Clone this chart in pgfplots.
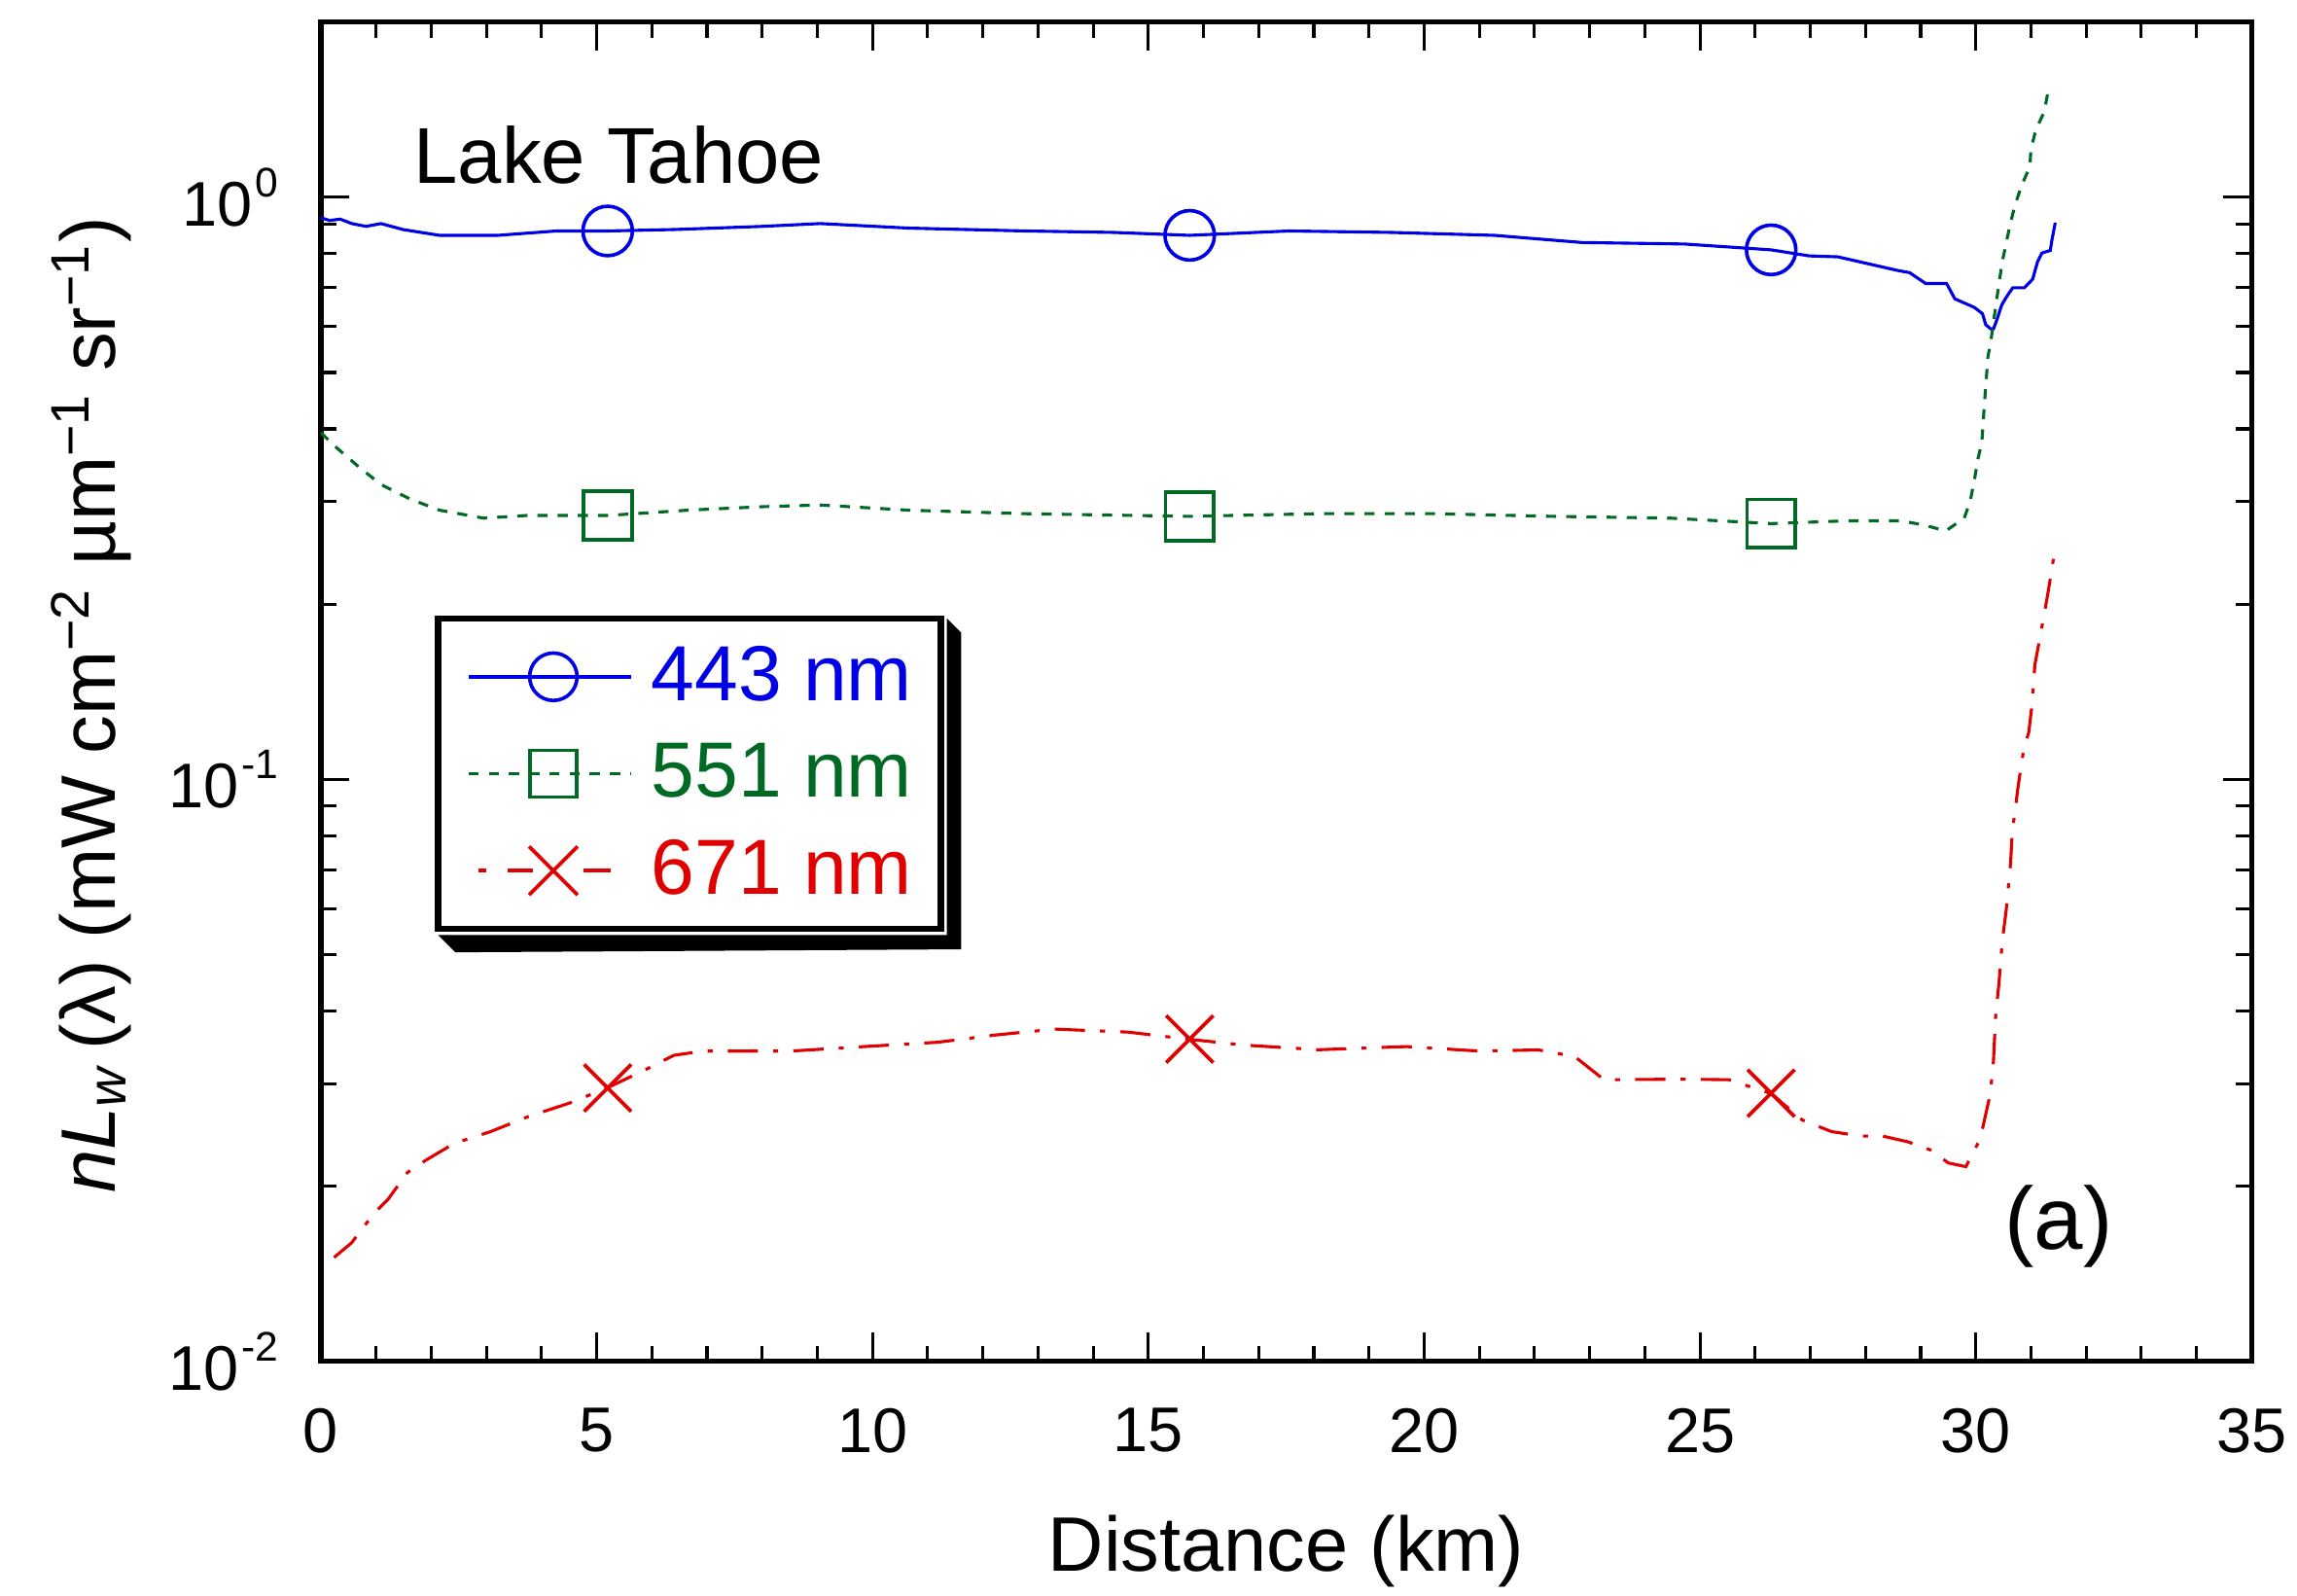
\documentclass[border=0pt]{standalone}
\usepackage{pgfplots}
\pgfplotsset{compat=1.18}
\usepackage{fontspec}
\setmainfont{Liberation Sans}
\definecolor{c443}{RGB}{0,0,230}
\definecolor{c551}{RGB}{0,105,35}
\definecolor{c671}{RGB}{225,0,0}
\newcommand{\sps}[1]{\kern0.6pt\raisebox{5.8pt}{\fontsize{8.2}{10}\selectfont #1}}
\begin{document}
\begin{tikzpicture}
\useasboundingbox (-2.235,-1.633) rectangle (13.766,9.483);
\begin{axis}[
 scale only axis, width=13.45cm, height=9.33cm,
 xmin=0, xmax=35, ymode=log, ymin=0.01, ymax=2,
 xtick={0,5,...,35}, minor x tick num=4,
 ytick={0.01,0.1,1},
 yticklabels={10\sps{-2},10\sps{-1},10\sps{0}},
 minor ytick={0.02,0.03,0.04,0.05,0.06,0.07,0.08,0.09,0.2,0.3,0.4,0.5,0.6,0.7,0.8,0.9},
 tick align=inside, major tick length=0.2cm, minor tick length=0.11cm,
 every tick/.style={black, line width=0.6pt},
 axis line style={line width=1pt},
 /pgf/number format/assume math mode=true,
 ticklabel style={font=\fontsize{12.5}{14}\selectfont},
 xticklabel style={yshift=-0.2cm},
 yticklabel style={xshift=-0.17cm},
 xlabel={Distance (km)},
 ylabel={\textit{nL}\textsubscript{\textit{w}}\,(λ) (mW cm\textsuperscript{−2} µm\textsuperscript{−1} sr\textsuperscript{−1})},
 label style={font=\fontsize{15.3}{18}\selectfont},
 xlabel style={at={(axis description cs:0.5,-0.1415)}, anchor=center},
 ylabel style={at={(axis description cs:-0.119,0.49)}, anchor=center},
 legend style={name=leg, at={(rel axis cs:0.0592,0.557)}, anchor=north west, draw=black, line width=1.2pt,
   fill=white, font=\fontsize{15.5}{18}\selectfont, inner xsep=0.15cm, inner ysep=0.14cm,
   row sep=0.145cm, column sep=0.08cm, nodes={inner sep=0.05cm}},
 legend cell align=left,
]
% 443 nm
\addplot[c443, line width=0.6pt, forget plot] table {
0 0.922
0.16 0.912
0.35 0.917
0.56 0.901
0.82 0.891
1.09 0.901
1.49 0.880
2.15 0.860
3.21 0.860
4.27 0.875
5.2 0.875
6.4 0.880
8.0 0.891
9.05 0.901
10.65 0.885
12.77 0.875
14.37 0.870
15.75 0.860
17.55 0.875
19.4 0.870
21.27 0.860
22.86 0.836
24.72 0.831
26.29 0.812
26.98 0.793
27.5 0.790
28.57 0.749
28.8 0.742
29.09 0.711
29.47 0.711
29.62 0.669
29.97 0.647
30.12 0.631
30.18 0.604
30.27 0.594
30.32 0.594
30.38 0.615
30.47 0.653
30.56 0.675
30.67 0.699
30.88 0.699
31.03 0.723
31.12 0.775
31.2 0.802
31.35 0.81
31.38 0.844
31.44 0.904
};
\addplot[c443, only marks, mark=o, mark size=4.9pt, line width=0.7pt,
  legend image code/.code={\path (0cm,0cm);
    \draw[c443, line width=0.7pt] (0.05cm,0cm) -- (1.18cm,0cm);
    \draw[c443, line width=0.7pt] (0.64cm,0cm) circle (4.7pt);}]
  coordinates {(5.2,0.875) (15.75,0.86) (26.29,0.812)};
\addlegendentry{\textcolor{c443}{443 nm}}
% 551 nm
\addplot[c551, line width=0.6pt, dash pattern=on 2pt off 2pt, forget plot] table {
0 0.394
0.29 0.371
0.69 0.344
1.09 0.321
1.62 0.303
2.15 0.290
2.95 0.281
3.74 0.284
5.2 0.284
6.66 0.290
8.0 0.294
9.05 0.296
10.65 0.290
12.77 0.286
15.75 0.283
18.08 0.286
20.2 0.286
22.33 0.283
24.46 0.281
26.29 0.275
27.64 0.278
28.65 0.278
29.1 0.273
29.45 0.267
29.79 0.281
29.9 0.301
29.98 0.329
30.03 0.352
30.11 0.380
30.16 0.447
30.22 0.532
30.27 0.564
30.42 0.711
30.48 0.775
30.62 0.896
30.71 0.969
30.83 1.047
30.98 1.129
31.0 1.21
31.09 1.307
31.24 1.401
31.33 1.555
};
\addplot[c551, only marks, mark=square, mark size=4.8pt, line width=0.7pt,
  legend image code/.code={\path (0cm,0cm);
    \draw[c551, line width=0.7pt, dash pattern=on 2pt off 2pt] (0.05cm,0cm) -- (1.18cm,0cm);
    \draw[c551, line width=0.7pt] (0.64cm-4.6pt,-4.6pt) rectangle (0.64cm+4.6pt,4.6pt);}]
  coordinates {(5.2,0.284) (15.75,0.283) (26.29,0.275)};
\addlegendentry{\textcolor{c551}{551 nm}}
% 671 nm
\addplot[c671, line width=0.6pt, dash pattern=on 6pt off 3pt on 1pt off 3pt, forget plot] table {
0.24 0.01509
0.56 0.0160
0.96 0.01795
1.22 0.0190
1.57 0.02112
1.89 0.02213
2.42 0.0237
3.08 0.02483
3.74 0.0263
4.54 0.02786
5.2 0.02954
5.87 0.03167
6.4 0.03357
6.93 0.03414
8.52 0.03414
9.85 0.03475
11.18 0.03535
12.24 0.03639
13.3 0.03724
14.63 0.0368
15.75 0.03576
16.75 0.03495
18.08 0.03432
19.68 0.03475
21.0 0.03414
22.07 0.0343
22.73 0.0334
23.26 0.03048
24.72 0.03055
25.52 0.03048
26.29 0.02886
26.85 0.02601
27.38 0.02483
27.91 0.02439
28.31 0.02439
28.77 0.02384
29.21 0.02303
29.5 0.02193
29.82 0.02161
30.08 0.02412
30.16 0.02607
30.26 0.02874
30.32 0.03279
30.36 0.03925
30.42 0.04467
30.48 0.05272
30.55 0.05953
30.63 0.07177
30.66 0.0809
30.77 0.0977
30.87 0.1128
30.96 0.1205
31.02 0.1344
31.07 0.1571
31.19 0.1811
31.3 0.2068
31.43 0.2464
};
\addplot[c671, only marks, mark=x, mark size=6.6pt, line width=0.7pt,
  legend image code/.code={\path (0cm,0cm);
    \draw[c671, line width=0.7pt] (0.12cm,0cm) -- (0.17cm,0cm);
    \draw[c671, line width=0.7pt] (0.32cm,0cm) -- (0.5cm,0cm);
    \draw[c671, line width=0.7pt] (0.85cm,0cm) -- (1.04cm,0cm);
    \draw[c671, line width=0.7pt] (0.64cm-4.8pt,-4.8pt) -- (0.64cm+4.8pt,4.8pt);
    \draw[c671, line width=0.7pt] (0.64cm-4.8pt,4.8pt) -- (0.64cm+4.8pt,-4.8pt);}]
  coordinates {(5.2,0.0295) (15.75,0.0358) (26.29,0.0289)};
\addlegendentry{\textcolor{c671}{671 nm}}
\node[anchor=west, inner sep=0pt, font=\fontsize{15.7}{18}\selectfont] at (axis cs:1.67,1.183) {Lake Tahoe};
\node[anchor=west, inner sep=0pt, font=\fontsize{17.5}{20}\selectfont] at (axis cs:30.51,0.01703) {(a)};
\end{axis}
\fill[black] ([xshift=0.6pt,yshift=-0.6pt]leg.south west) -- ++(0.12,-0.12) -- ([xshift=0.12cm,yshift=-0.12cm]leg.south east) -- ([xshift=0.12cm,yshift=-0.12cm]leg.north east) -- ([xshift=0.6pt,yshift=-0.6pt]leg.north east) -- ([xshift=0.6pt,yshift=-0.6pt]leg.south east) -- cycle;
\end{tikzpicture}
\end{document}
